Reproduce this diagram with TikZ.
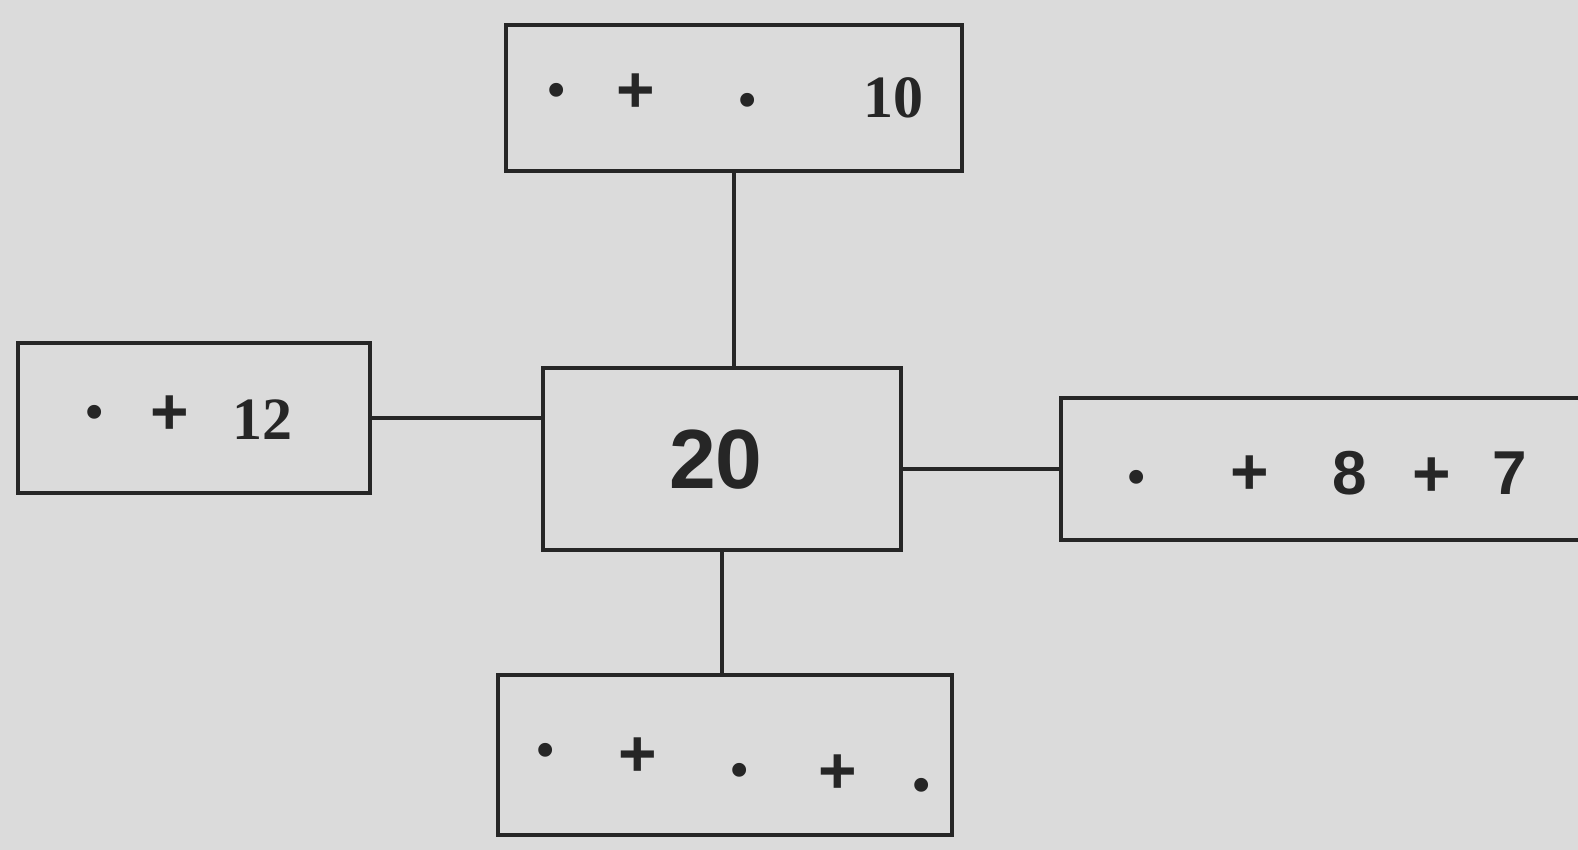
\documentclass[tikz,border=0pt]{standalone}
\usepackage{fontspec}
\setmainfont{Liberation Serif}
\setsansfont{Liberation Sans}
\begin{document}
\begin{tikzpicture}[x=0.5pt,y=-0.5pt,
  box/.style={draw=black!85, line width=2pt, fill=none, inner sep=0pt},
  txt/.style={font=\fontsize{30}{32}\selectfont\bfseries, text=black!85, inner sep=0pt},
  stxt/.style={font=\fontsize{31}{33}\selectfont\sffamily\bfseries, text=black!85, inner sep=0pt},
  dot/.style={font=\fontsize{29}{30}\selectfont, text=black!85, inner sep=0pt, yshift=-4pt},
  plus/.style={font=\fontsize{33}{34}\selectfont\sffamily\bfseries, text=black!85, inner sep=0pt},
  big/.style={font=\fontsize{42}{44}\selectfont\sffamily\bfseries, text=black!85, inner sep=0pt},
  link/.style={draw=black!85, line width=2pt}]
\fill[black!14] (0,0) rectangle (1578,850);
\useasboundingbox (0,0) rectangle (1578,850);
\node[box, minimum width=228pt, minimum height=73pt] (top) at (734,98) {};
\node[box, minimum width=176pt, minimum height=75pt] (left) at (194,418) {};
\node[box, minimum width=179pt, minimum height=91pt] (center) at (722,459) {};
\node[box, minimum width=262pt, minimum height=71pt] (right) at (1323,469) {};
\node[box, minimum width=227pt, minimum height=80pt] (bottom) at (725,755) {};
\draw[link] (top.south) -- (center.north -| top.south);
\draw[link] (center.south) -- (center.south |- bottom.north);
\draw[link] (left.east) -- (left.east -| center.west);
\draw[link] (right.west -| center.east) -- (right.west);
% top texts
\node[dot] (t1) at (557,88) {•};
\node[plus] (t2) at (636,93) {+};
\node[dot] (t3) at (748,98) {•};
\node[txt] (t4) at (893,98) {10};
% left texts
\node[dot] (l1) at (95,410) {•};
\node[plus] (l2) at (170,415) {+};
\node[txt] (l3) at (262,420) {12};
% center
\node[big] (c1) at (716,460) {20};
% right
\node[dot] (r1) at (1137,475) {•};
\node[plus] (r2) at (1250,475) {+};
\node[stxt] (r3) at (1350,473) {8};
\node[plus] (r4) at (1432,477) {+};
\node[stxt] (r5) at (1510,473) {7};
% bottom
\node[dot] (b1) at (546,748) {•};
\node[plus] (b2) at (638,757) {+};
\node[dot] (b3) at (740,768) {•};
\node[plus] (b4) at (838,774) {+};
\node[dot] (b5) at (922,783) {•};
\end{tikzpicture}
\end{document}
